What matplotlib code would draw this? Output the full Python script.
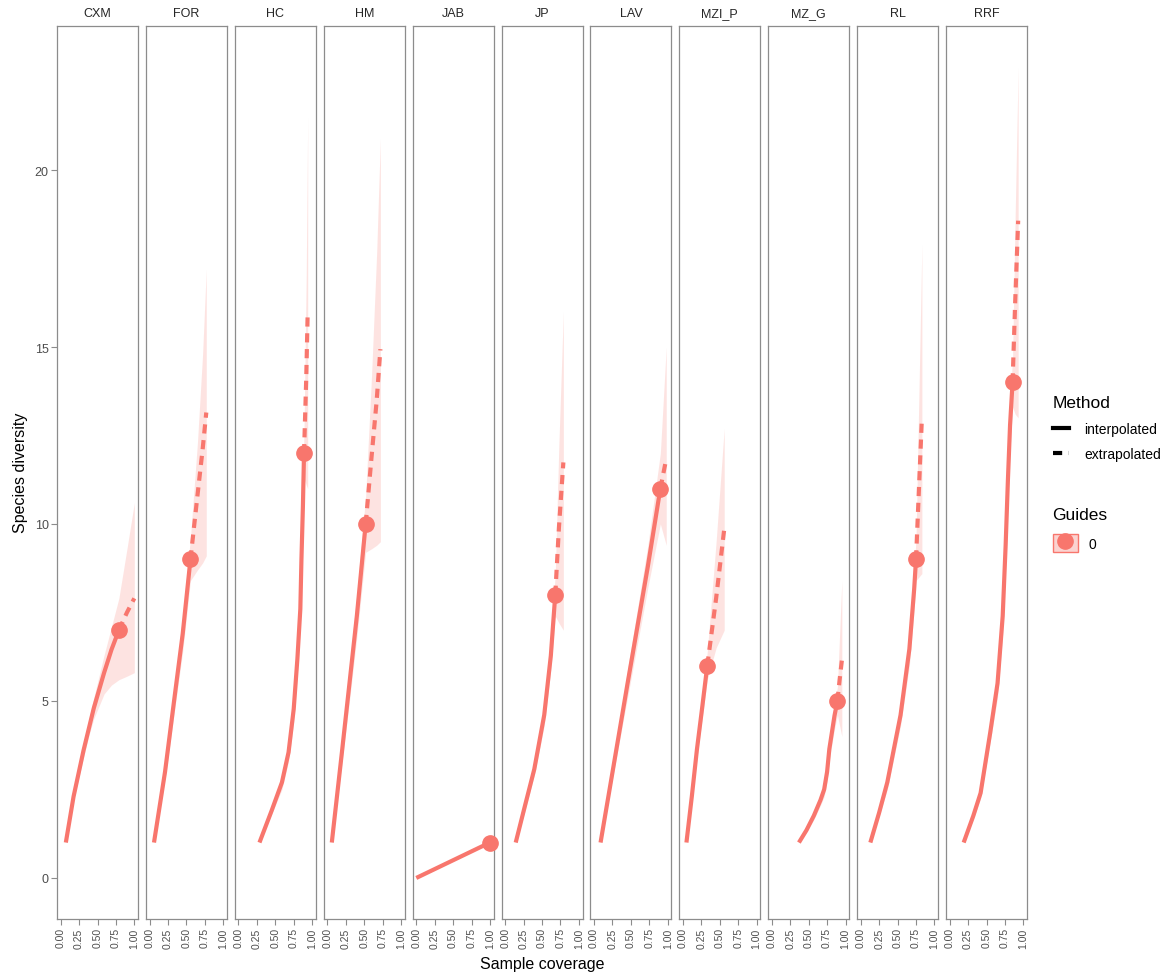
import matplotlib
matplotlib.use("Agg")
import matplotlib.pyplot as plt
from matplotlib.lines import Line2D
from matplotlib.patches import Patch

# sites (facets)
sites = ["CXM", "FOR", "HC", "HM", "JAB", "JP", "LAV", "MZI_P", "MZ_G", "RL", "RRF"]

# interpolated part (sample coverage, diversity, confidence band)
int_cov = {
    "CXM": [0.07, 0.175, 0.31, 0.38, 0.45, 0.59, 0.69, 0.79],
    "FOR": [0.06, 0.21, 0.33, 0.45, 0.555],
    "HC": [0.285, 0.45, 0.59, 0.68, 0.75, 0.80, 0.84, 0.855, 0.875, 0.89],
    "HM": [0.06, 0.2, 0.3, 0.4, 0.52],
    "JAB": [0.0, 1.0],
    "JP": [0.143, 0.27, 0.395, 0.53, 0.62, 0.68],
    "LAV": [0.088, 0.455, 0.73, 0.90],
    "MZI_P": [0.047, 0.12, 0.19, 0.26, 0.33],
    "MZ_G": [0.367, 0.47, 0.57, 0.66, 0.71, 0.75, 0.78, 0.85, 0.89],
    "RL": [0.13, 0.25, 0.36, 0.54, 0.66, 0.725, 0.75],
    "RRF": [0.19, 0.32, 0.42, 0.55, 0.65, 0.72, 0.76, 0.79, 0.82, 0.854],
}
int_div = {
    "CXM": [1, 2.3, 3.6, 4.2, 4.8, 5.8, 6.45, 7.0],
    "FOR": [1, 3.0, 4.96, 6.9, 9.0],
    "HC": [1, 1.9, 2.7, 3.55, 4.77, 6.19, 7.6, 9.0, 10.5, 12.0],
    "HM": [1, 3.6, 5.5, 7.4, 10.0],
    "JAB": [0, 1],
    "JP": [1, 2.05, 3.07, 4.6, 6.28, 8.0],
    "LAV": [1, 5.5, 8.8, 11.0],
    "MZI_P": [1, 2.3, 3.64, 4.8, 6.0],
    "MZ_G": [1, 1.35, 1.76, 2.2, 2.5, 3.0, 3.64, 4.58, 5.0],
    "RL": [1, 1.85, 2.7, 4.6, 6.47, 8.16, 9.0],
    "RRF": [1, 1.75, 2.4, 4.1, 5.5, 7.4, 9.4, 11.2, 12.8, 14.0],
}
int_lcl = {
    "CXM": [1, 2.2, 3.4, 4.0, 4.5, 5.2, 5.45, 5.6],
    "FOR": [1, 2.8, 4.6, 6.4, 8.4],
    "HC": [1, 1.8, 2.5, 3.3, 4.4, 5.8, 7.1, 8.5, 9.9, 11.3],
    "HM": [1, 3.3, 5.0, 6.8, 9.2],
    "JAB": [0, 1],
    "JP": [1, 1.9, 2.9, 4.3, 5.9, 7.4],
    "LAV": [1, 5.1, 8.2, 10.0],
    "MZI_P": [1, 2.2, 3.4, 4.5, 5.6],
    "MZ_G": [1, 1.3, 1.65, 2.05, 2.3, 2.75, 3.35, 4.2, 4.6],
    "RL": [1, 1.75, 2.5, 4.3, 6.0, 7.6, 8.4],
    "RRF": [1, 1.65, 2.25, 3.85, 5.1, 6.9, 8.8, 10.6, 12.1, 13.3],
}
int_ucl = {
    "CXM": [1, 2.4, 3.8, 4.45, 5.1, 6.3, 7.1, 7.9],
    "FOR": [1, 3.2, 5.3, 7.4, 9.6],
    "HC": [1, 2.0, 2.9, 3.8, 5.1, 6.6, 8.1, 9.5, 11.1, 12.7],
    "HM": [1, 3.9, 6.0, 8.0, 10.8],
    "JAB": [0, 1],
    "JP": [1, 2.2, 3.3, 4.9, 6.7, 8.6],
    "LAV": [1, 5.9, 9.4, 12.0],
    "MZI_P": [1, 2.4, 3.9, 5.1, 6.4],
    "MZ_G": [1, 1.4, 1.9, 2.35, 2.7, 3.25, 3.95, 4.95, 5.4],
    "RL": [1, 1.95, 2.9, 4.9, 6.9, 8.7, 9.6],
    "RRF": [1, 1.85, 2.55, 4.35, 5.9, 7.9, 10.0, 11.8, 13.5, 14.7],
}

# extrapolated part
ext_cov = {
    "CXM": [0.79, 0.9, 1.0],
    "FOR": [0.555, 0.65, 0.72, 0.77],
    "HC": [0.89, 0.92, 0.94],
    "HM": [0.52, 0.6, 0.67, 0.72],
    "JAB": [],
    "JP": [0.68, 0.73, 0.79],
    "LAV": [0.9, 0.98],
    "MZI_P": [0.33, 0.45, 0.56],
    "MZ_G": [0.89, 0.92, 0.95],
    "RL": [0.75, 0.79, 0.83],
    "RRF": [0.854, 0.89, 0.93],
}
ext_div = {
    "CXM": [7.0, 7.5, 7.9],
    "FOR": [9.0, 10.8, 12.1, 13.15],
    "HC": [12.0, 14.1, 16.0],
    "HM": [10.0, 11.9, 13.5, 14.94],
    "JAB": [],
    "JP": [8.0, 9.9, 11.74],
    "LAV": [11.0, 11.84],
    "MZI_P": [6.0, 7.9, 9.85],
    "MZ_G": [5.0, 5.6, 6.14],
    "RL": [9.0, 11.0, 13.0],
    "RRF": [14.0, 16.3, 18.57],
}
ext_lcl = {
    "CXM": [5.6, 5.7, 5.8],
    "FOR": [8.4, 8.7, 8.9, 9.1],
    "HC": [11.3, 11.1, 11.0],
    "HM": [9.2, 9.3, 9.4, 9.5],
    "JAB": [],
    "JP": [7.4, 7.2, 7.0],
    "LAV": [10.0, 9.4],
    "MZI_P": [5.6, 6.5, 7.0],
    "MZ_G": [4.6, 4.3, 4.0],
    "RL": [8.4, 8.5, 8.6],
    "RRF": [13.3, 13.1, 13.0],
}
ext_ucl = {
    "CXM": [7.9, 9.3, 10.6],
    "FOR": [9.6, 12.3, 14.8, 17.2],
    "HC": [12.7, 17.0, 21.5],
    "HM": [10.8, 14.2, 17.7, 20.9],
    "JAB": [],
    "JP": [8.6, 12.3, 16.0],
    "LAV": [12.0, 15.0],
    "MZI_P": [6.4, 9.5, 12.7],
    "MZ_G": [5.4, 6.9, 8.4],
    "RL": [9.6, 13.7, 17.9],
    "RRF": [14.7, 18.8, 22.9],
}

# observed point
obs_cov = {"CXM": 0.79, "FOR": 0.555, "HC": 0.89, "HM": 0.52, "JAB": 1.0, "JP": 0.68,
           "LAV": 0.9, "MZI_P": 0.33, "MZ_G": 0.89, "RL": 0.75, "RRF": 0.854}
obs_div = {"CXM": 7, "FOR": 9, "HC": 12, "HM": 10, "JAB": 1, "JP": 8,
           "LAV": 11, "MZI_P": 6, "MZ_G": 5, "RL": 9, "RRF": 14}

red = "#F8766D"
grey_txt = "#4d4d4d"
border = "#8c8c8c"

fig = plt.figure(figsize=(11.7, 9.79), dpi=100)
plt.rcParams["font.family"] = ["Liberation Sans", "DejaVu Sans"]

left0 = 57 / 1170
step = 88.9 / 1170
pw = 81 / 1170
bottom = 1 - 920 / 979
ph = (920 - 27) / 979

for i, s in enumerate(sites):
    ax = fig.add_axes([left0 + i * step, bottom, pw, ph])
    band_x = int_cov[s] + ext_cov[s][1:]
    band_lo = int_lcl[s] + ext_lcl[s][1:]
    band_hi = int_ucl[s] + ext_ucl[s][1:]
    ax.fill_between(band_x, band_lo, band_hi, color=red, alpha=0.2, lw=0)
    ax.plot(int_cov[s], int_div[s], color=red, lw=3, solid_capstyle="butt",
            solid_joinstyle="round")
    if ext_cov[s]:
        ax.plot(ext_cov[s], ext_div[s], color=red, lw=3, linestyle=(0, (2.2, 1.6)))
    ax.plot([obs_cov[s]], [obs_div[s]], "o", color=red, ms=11, zorder=5, clip_on=False)

    ax.set_xlim(-0.05, 1.05)
    ax.set_ylim(-1.16, 24.07)
    ax.set_xticks([0, 0.25, 0.5, 0.75, 1.0])
    ax.set_xticklabels(["0.00", "0.25", "0.50", "0.75", "1.00"], rotation=90,
                       fontsize=7.5, color=grey_txt)
    ax.set_yticks([0, 5, 10, 15, 20])
    ax.tick_params(axis="both", length=4, width=0.8, color=border, pad=2)
    if i == 0:
        ax.set_yticklabels(["0", "5", "10", "15", "20"], fontsize=9, color=grey_txt)
    else:
        ax.tick_params(axis="y", left=False, labelleft=False)
    for sp in ax.spines.values():
        sp.set_color(border)
        sp.set_linewidth(0.9)
    ax.set_title(s, fontsize=9, color="#262626", pad=7)

fig.text(542 / 1170, 1 - 965 / 979, "Sample coverage", ha="center", va="center", fontsize=11.5)
fig.text(20 / 1170, 1 - 473 / 979, "Species diversity", ha="center", va="center",
         rotation=90, fontsize=11.5)

# legends
method_handles = [
    Line2D([], [], color="black", lw=3),
    Line2D([], [], color="black", lw=3, linestyle=(0, (2.2, 1.6))),
]
fig.legend(method_handles, ["interpolated", "extrapolated"], title="Method",
           loc="upper left", bbox_to_anchor=(1040 / 1170, 1 - 384 / 979),
           frameon=False, fontsize=10, title_fontsize=12.5, handlelength=1.2,
           handletextpad=1.1, labelspacing=0.82, alignment="left")
guide_handles = [(Patch(facecolor="#fbd3d0", edgecolor=red, lw=1),
                  Line2D([], [], marker="o", color=red, ms=11, lw=0))]
fig.legend(guide_handles, ["0"], title="Guides", loc="upper left",
           bbox_to_anchor=(1040 / 1170, 1 - 495 / 979), frameon=False,
           fontsize=10, title_fontsize=12.5, handlelength=1.8, handleheight=1.65,
           handletextpad=0.8, labelspacing=0.9, alignment="left")

fig.savefig("out.png", dpi=100)
